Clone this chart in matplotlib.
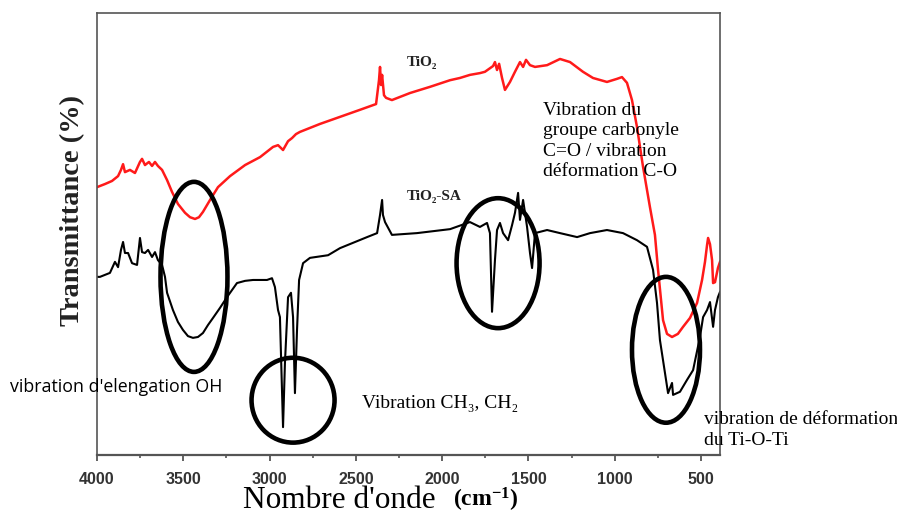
import numpy as np
import matplotlib
matplotlib.use("Agg")
import matplotlib.pyplot as plt
from matplotlib.patches import Ellipse

# spectra (wavenumber in cm-1, transmittance in arbitrary %)
wn_tio2 = [4000, 3954, 3913, 3878, 3861, 3849, 3838, 3809, 3780, 3751, 3739, 3722,
           3699, 3681, 3664, 3647, 3623, 3594, 3565, 3531, 3490, 3461, 3432, 3409,
           3386, 3345, 3299, 3229, 3142, 3055, 2980, 2951, 2922, 2893, 2870, 2847,
           2824, 2708, 2592, 2476, 2383, 2366, 2360, 2354, 2348, 2337, 2325, 2291,
           2186, 2070, 1954, 1897, 1839, 1781, 1752, 1705, 1694, 1682, 1670, 1653,
           1636, 1607, 1578, 1549, 1531, 1514, 1491, 1462, 1392, 1317, 1259, 1184,
           1126, 1045, 987, 958, 929, 900, 871, 836, 796, 767, 749, 720, 697, 668,
           634, 604, 564, 523, 494, 477, 465, 459, 448, 436, 430, 419, 402, 390]
t_tio2 = [60.6, 61.3, 62.0, 63.1, 64.5, 65.8, 64.0, 64.5, 63.8, 66.3, 67.0, 65.6,
          66.3, 65.4, 66.3, 65.4, 64.5, 62.2, 59.5, 56.8, 54.8, 53.8, 53.4, 53.8,
          55.0, 57.7, 60.6, 63.1, 65.6, 67.4, 69.7, 70.1, 69.0, 71.0, 71.7, 72.6,
          73.1, 74.9, 76.5, 78.1, 79.4, 84.8, 87.8, 83.7, 86.0, 81.4, 80.8, 80.3,
          81.9, 83.3, 84.8, 85.3, 86.0, 86.4, 86.7, 88.0, 88.9, 87.1, 88.5, 85.3,
          82.6, 84.4, 86.7, 88.9, 87.8, 89.4, 88.2, 87.8, 88.2, 89.6, 88.9, 86.7,
          85.3, 84.4, 85.1, 85.5, 84.2, 80.3, 74.2, 65.2, 56.1, 49.8, 41.9, 30.5,
          27.4, 26.7, 27.4, 29.0, 31.0, 34.4, 39.6, 43.7, 47.5, 49.1, 47.7, 44.1,
          38.9, 39.1, 42.3, 43.7]

wn_sa = [4000, 3983, 3925, 3896, 3878, 3861, 3849, 3838, 3820, 3797, 3768, 3751,
         3739, 3722, 3704, 3681, 3664, 3647, 3623, 3606, 3594, 3560, 3531, 3502,
         3473, 3444, 3415, 3386, 3357, 3328, 3287, 3247, 3218, 3189, 3142, 3096,
         3015, 2986, 2969, 2951, 2940, 2922, 2911, 2893, 2876, 2864, 2853, 2841,
         2829, 2806, 2766, 2661, 2592, 2435, 2377, 2360, 2348, 2343, 2331, 2291,
         2146, 1954, 1839, 1781, 1740, 1723, 1711, 1694, 1682, 1665, 1647, 1618,
         1595, 1578, 1560, 1549, 1531, 1508, 1491, 1479, 1462, 1392, 1317, 1218,
         1143, 1045, 952, 871, 813, 778, 755, 738, 709, 691, 668, 662, 622, 581,
         546, 506, 488, 465, 448, 430, 419, 402, 390]
t_sa = [40.3, 40.3, 41.2, 43.7, 42.5, 46.4, 48.2, 45.7, 45.7, 43.4, 43.0, 49.1,
        45.9, 45.7, 46.4, 44.8, 45.9, 44.1, 43.0, 40.3, 36.7, 32.8, 30.1, 28.3,
        26.9, 26.5, 26.7, 27.6, 29.4, 31.0, 33.3, 35.7, 37.3, 38.9, 39.4, 39.6,
        39.6, 40.0, 38.0, 32.8, 31.2, 6.3, 20.8, 35.7, 36.7, 31.2, 14.0, 28.3,
        39.6, 43.4, 44.6, 45.2, 46.8, 49.3, 50.2, 54.3, 57.7, 54.3, 52.7, 49.8,
        50.2, 51.1, 52.7, 51.6, 52.5, 50.2, 32.4, 44.1, 50.9, 52.5, 50.2, 48.6,
        52.0, 54.8, 59.3, 53.2, 57.7, 51.6, 45.7, 42.3, 50.2, 50.9, 50.2, 49.3,
        50.2, 50.9, 50.2, 48.6, 47.1, 41.9, 34.4, 26.0, 18.6, 14.0, 16.3, 13.6,
        14.3, 17.0, 19.2, 26.7, 31.2, 32.8, 34.6, 29.0, 32.8, 35.7, 36.9]

major_ticks = [4000, 3500, 3000, 2500, 2000, 1500, 1000, 500]
minor_ticks = [3750, 3250, 2750, 2250, 1750, 1250, 750]

serif = ["Liberation Serif", "DejaVu Serif"]
plt.rcParams["mathtext.fontset"] = "custom"
plt.rcParams["mathtext.rm"] = "Liberation Serif"
plt.rcParams["mathtext.bf"] = "Liberation Serif:bold"

fig = plt.figure(figsize=(8.97, 5.16), dpi=100)
ax = fig.add_axes([97 / 897, 61 / 516, 623 / 897, 442 / 516])

ax.plot(wn_tio2, t_tio2, color="#ff1a1a", lw=1.8)
ax.plot(wn_sa, t_sa, color="black", lw=1.5)

ax.set_xlim(4000, 390)
ax.set_ylim(0, 100)
ax.set_xticks(major_ticks)
ax.set_xticks(minor_ticks, minor=True)
ax.set_yticks([])
ax.tick_params(axis="x", which="major", direction="out", length=4, width=1.3,
               color="#555555", pad=8)
ax.tick_params(axis="x", which="minor", direction="out", length=2.5, width=1.2,
               color="#555555")
for lab in ax.get_xticklabels():
    lab.set_fontfamily(["Liberation Sans", "DejaVu Sans"])
    lab.set_fontweight("bold")
    lab.set_fontsize(11.5)
    lab.set_color("#333333")
for name, sp in ax.spines.items():
    sp.set_color("#555555")
    sp.set_linewidth(1.2)
ax.spines["bottom"].set_linewidth(1.6)

# circled bands
for cx, cy, w, h in [(3438, 40.3, 388, 43.0), (2864, 12.4, 481, 19.2),
                     (1676, 43.4, 481, 29.4), (703, 23.8, 394, 33.0)]:
    ax.add_patch(Ellipse((cx, cy), w, h, fill=False, ec="black", lw=3.3,
                         clip_on=False, zorder=5))

# labels on the curves
ax.text(2204, 88.7, "TiO\u2082", family=serif, fontsize=11, fontweight="bold",
        color="#222222", va="center")
ax.text(2204, 58.4, "TiO\u2082-SA", family=serif, fontsize=11, fontweight="bold",
        color="#222222", va="center")

# annotations (figure pixel positions)
def px(x, y):
    return x / 897, 1 - y / 516

fig.text(*px(543, 141), "Vibration du\ngroupe carbonyle\nC=O / vibration\ndéformation C-O",
         family=serif, fontsize=14, va="center", ha="left", linespacing=1.25)
fig.text(*px(10, 387), "vibration d'elengation OH", family=["Open Sans", "DejaVu Sans"],
         fontsize=12.8, va="center", ha="left")
fig.text(*px(362, 404), "Vibration CH\u2083, CH\u2082", family=serif, fontsize=14,
         va="center", ha="left")
fig.text(*px(704, 430), "vibration de déformation\ndu Ti-O-Ti", family=serif,
         fontsize=14, va="center", ha="left", linespacing=1.25)

fig.text(*px(73, 210), "Transmittance (%)", family=serif, fontsize=20.5,
         fontweight="bold", rotation=90, va="center", ha="center", color="#222222")
fig.text(*px(243, 500), "Nombre d'onde", family=serif, fontsize=22.5,
         va="center", ha="left")
fig.text(*px(453, 500), r"$\mathbf{(cm^{-1})}$", fontsize=17, va="center", ha="left")

fig.savefig("out.png", dpi=100)
